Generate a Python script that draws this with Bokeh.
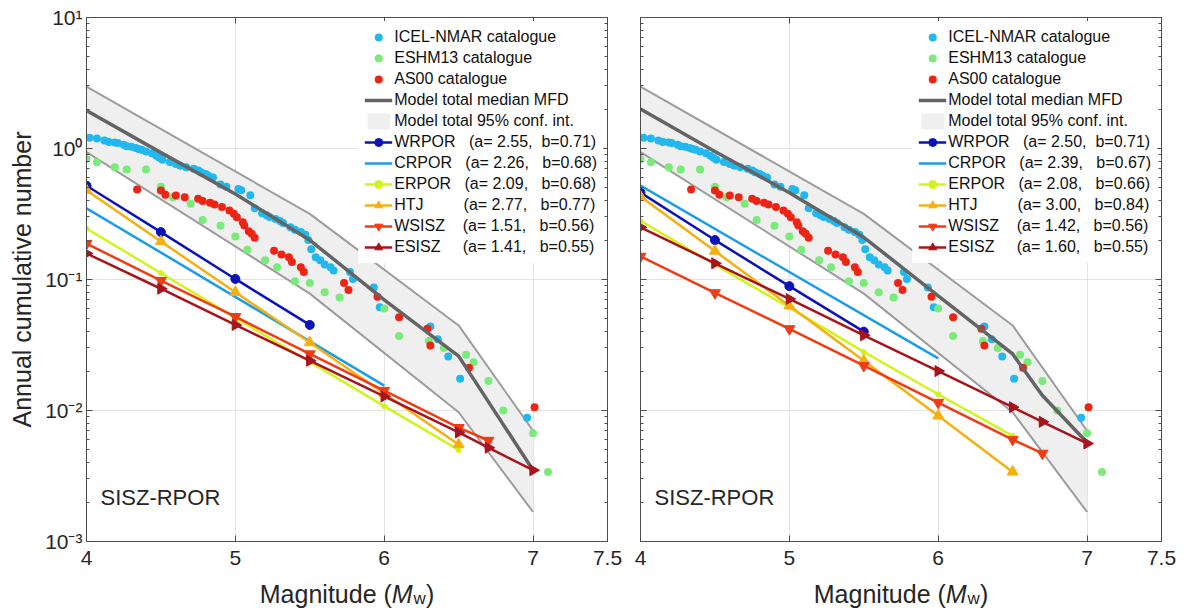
import math
from bokeh.plotting import figure
from bokeh.models import (Range1d, FixedTicker, CustomJSTickFormatter, NumeralTickFormatter,
                          Legend, LegendItem, Label, LogAxis, LinearAxis)
from bokeh.layouts import row, column
from bokeh.core.properties import value
from bokeh.embed import file_html
from bokeh.resources import INLINE

# ---------------- data ----------------
icel_m = [4.02, 4.07, 4.12, 4.15, 4.19, 4.21, 4.25, 4.27, 4.30, 4.33, 4.35, 4.37, 4.40, 4.44, 4.47,
          4.49, 4.51, 4.56, 4.60, 4.63, 4.67, 4.72, 4.75, 4.77, 4.80, 4.82, 4.85, 4.90, 4.94, 5.02,
          5.04, 5.10, 5.13, 5.18, 5.21, 5.23, 5.27, 5.30, 5.32, 5.37, 5.40, 5.44, 5.47, 5.49, 5.51,
          5.54, 5.57, 5.60, 5.64, 5.66, 5.77, 5.79, 5.93, 5.97, 6.31, 6.36, 6.43, 6.51, 6.96]
icel_n = [1.21, 1.19, 1.15, 1.12, 1.11, 1.10, 1.07, 1.04, 1.03, 1.01, 0.99, 0.98, 0.95, 0.92, 0.88,
          0.85, 0.82, 0.79, 0.76, 0.74, 0.72, 0.70, 0.68, 0.66, 0.64, 0.62, 0.60, 0.53, 0.51, 0.49,
          0.48, 0.44, 0.35, 0.32, 0.31, 0.30, 0.29, 0.28, 0.27, 0.25, 0.24, 0.23, 0.22, 0.20, 0.17,
          0.148, 0.14, 0.13, 0.124, 0.117, 0.114, 0.101, 0.087, 0.0615, 0.0437, 0.035, 0.0258, 0.0175, 0.0088]

eshm_m = [4.00, 4.07, 4.19, 4.27, 4.40, 4.50, 4.58, 4.70, 4.78, 4.90, 5.00, 5.08, 5.20, 5.28,
          5.40, 5.50, 5.60, 5.70, 6.00, 6.10, 6.30, 6.40, 6.55, 6.60, 6.70, 6.80, 7.00, 7.10]
eshm_n = [0.83, 0.785, 0.72, 0.69, 0.69, 0.51, 0.425, 0.378, 0.285, 0.257, 0.213, 0.169, 0.14, 0.124,
          0.097, 0.094, 0.080, 0.073, 0.060, 0.037, 0.034, 0.030, 0.0267, 0.0234, 0.0168, 0.010, 0.0067, 0.0034]

as00_m = [4.34, 4.50, 4.53, 4.60, 4.66, 4.75, 4.78, 4.83, 4.86, 4.91, 4.96, 4.99, 5.01, 5.05, 5.06, 5.09,
          5.11, 5.13, 5.26, 5.31, 5.36, 5.38, 5.44, 5.46, 5.73, 5.76, 5.955, 6.10, 6.29, 6.31, 6.57, 7.01]
as00_n = [0.486, 0.478, 0.444, 0.438, 0.425, 0.413, 0.397, 0.385, 0.374, 0.357, 0.336, 0.317, 0.299, 0.274,
          0.258, 0.234, 0.223, 0.208, 0.166, 0.155, 0.148, 0.136, 0.124, 0.114, 0.094, 0.083, 0.074,
          0.0515, 0.042, 0.0313, 0.0212, 0.0106]

ci_m = [4.0, 5.5, 6.5, 7.0]
ci_upper = [2.97, 0.317, 0.0446, 0.0070]
ci_lower = [0.94, 0.078, 0.0097, 0.00168]

left_median_m = [4.0, 4.5, 5.0, 5.5, 6.0, 6.5, 7.0]
left_median_n = [1.95, 0.93, 0.45, 0.20, 0.070, 0.026, 0.0035]
right_median_m = [4.0, 4.5, 5.0, 5.5, 6.0, 6.5, 6.7, 7.0]
right_median_n = [2.0, 0.95, 0.46, 0.21, 0.075, 0.027, 0.013, 0.0057]

zone_names = ["WRPOR", "CRPOR", "ERPOR", "HTJ", "WSISZ", "ESISZ"]
left_a = [2.55, 2.26, 2.09, 2.77, 1.51, 1.41]
left_b = [0.71, 0.68, 0.68, 0.77, 0.56, 0.55]
right_a = [2.50, 2.39, 2.08, 3.00, 1.42, 1.60]
right_b = [0.71, 0.67, 0.66, 0.84, 0.56, 0.55]

wrpor_m = [4.0, 4.5, 5.0, 5.5]
crpor_m = [4.0, 6.0]
erpor_m = [4.0, 4.5, 5.0, 5.5, 6.0, 6.5]
htj_m = [4.0, 4.5, 5.0, 5.5, 6.0, 6.5]
wsisz_m = [4.0, 4.5, 5.0, 5.5, 6.0, 6.5, 6.7]
esisz_m = [4.0, 4.5, 5.0, 5.5, 6.0, 6.5, 6.7, 7.0]

left_wrpor_n = [0.52, 0.23, 0.101, 0.045]
left_crpor_n = [0.35, 0.0155]
left_erpor_n = [0.245, 0.112, 0.051, 0.0235, 0.0108, 0.0050]
left_htj_n = [0.48, 0.195, 0.080, 0.033, 0.0135, 0.0055]
left_wsisz_n = [0.188, 0.098, 0.052, 0.027, 0.0142, 0.0074, 0.0059]
left_esisz_n = [0.158, 0.085, 0.045, 0.024, 0.0128, 0.0068, 0.0052, 0.0035]

right_wrpor_n = [0.46, 0.20, 0.089, 0.040]
right_crpor_n = [0.52, 0.025]
right_erpor_n = [0.28, 0.13, 0.061, 0.028, 0.0133, 0.0064]
right_htj_n = [0.43, 0.165, 0.063, 0.024, 0.0091, 0.0034]
right_wsisz_n = [0.15, 0.079, 0.042, 0.022, 0.0115, 0.0060, 0.0047]
right_esisz_n = [0.25, 0.133, 0.071, 0.0375, 0.020, 0.0106, 0.0082, 0.0056]

x_ticks = [4, 5, 6, 7, 7.5]
y_ticks = [1e-3, 1e-2, 1e-1, 1e0, 1e1]
region_text = "SISZ-RPOR"
ylabel_text = "Annual cumulative number"
xlabel_parts = ["Magnitude (", "M", "w", ")"]
catalogue_labels = ["ICEL-NMAR catalogue", "ESHM13 catalogue", "AS00 catalogue"]
median_label = "Model total median MFD"
ci_label = "Model total 95% conf. int."

# ---------------- styling ----------------
FONT = "Liberation Sans"
TXT = "#262626"
AXC = "#4d4d4d"
NB = "\u00a0"
zone_styles = [
    dict(color="#0a12b8", marker="circle", size=9, angle=0.0),
    dict(color="#1a9de6", marker=None, size=0, angle=0.0),
    dict(color="#d4f21c", marker="circle", size=5, angle=0.0),
    dict(color="#f5b010", marker="triangle", size=11, angle=0.0),
    dict(color="#f03c14", marker="inverted_triangle", size=11, angle=0.0),
    dict(color="#a8141c", marker="triangle", size=11, angle=-math.pi / 2),
]
gap_name = [3, 3, 3, 9, 4, 5]
gap_b = [2, 3, 3, 3, 3, 3]
zone_ms = [wrpor_m, crpor_m, erpor_m, htj_m, wsisz_m, esisz_m]

AW = {"M": 833, "a": 556, "g": 556, "n": 556, "i": 222, "t": 278, "u": 556, "d": 556,
      "e": 556, " ": 278, "(": 333, ")": 333, "w": 722}


def tw(s, size):
    return sum(AW[c] for c in s) * size / 1000.0


FRAME_W, FRAME_H = 521, 524
TOP_B, BOT_B = 17, 33
LAB_H = 34
LAB_BASE = 15


def make_panel(first, median_m, median_n, zone_ns, a_list, b_list):
    left_border = 86 if first else 17
    right_border = 16
    p = figure(width=left_border + FRAME_W + right_border, height=TOP_B + FRAME_H + BOT_B,
               x_range=Range1d(4, 7.5), y_range=Range1d(1e-3, 10), y_axis_type="log",
               output_backend="svg", toolbar_location=None,
               min_border_left=left_border, min_border_right=right_border,
               min_border_top=TOP_B, min_border_bottom=BOT_B)
    p.background_fill_color = "white"
    p.border_fill_color = "white"
    p.outline_line_color = AXC

    xt = FixedTicker(ticks=x_ticks, minor_ticks=[])
    minor = [k * 10.0 ** e for e in range(-3, 1) for k in range(2, 10)]
    yt = FixedTicker(ticks=y_ticks, minor_ticks=minor)
    sup_fmt = CustomJSTickFormatter(code="""
        const e = Math.round(Math.log10(tick));
        const sup = {"-": "\u207b", "0": "\u2070", "1": "\u00b9", "2": "\u00b2", "3": "\u00b3"};
        return "10" + String(e).split("").map(c => sup[c]).join("");
    """)
    empty = CustomJSTickFormatter(code="return '';")

    xa = p.xaxis[0]
    xa.ticker = xt
    xa.formatter = NumeralTickFormatter(format="0.[0]")
    ya = p.yaxis[0]
    ya.ticker = yt
    ya.formatter = sup_fmt if first else empty

    for ax in (xa, ya):
        ax.axis_line_color = AXC
        ax.major_tick_line_color = AXC
        ax.minor_tick_line_color = AXC
        ax.major_tick_in = 6
        ax.major_tick_out = 0
        ax.minor_tick_in = 3
        ax.minor_tick_out = 0
        ax.major_label_text_font = FONT
        ax.major_label_text_font_size = "21px"
        ax.major_label_text_color = TXT
    xa.major_label_standoff = 9
    ya.major_label_standoff = 4 if first else 0
    if first:
        ya.axis_label = ylabel_text
        ya.axis_label_text_font = FONT
        ya.axis_label_text_font_size = "25px"
        ya.axis_label_text_font_style = "normal"
        ya.axis_label_text_color = TXT
        ya.axis_label_standoff = 6

    top = LinearAxis(ticker=xt, formatter=empty, major_tick_in=6, major_tick_out=0,
                     minor_tick_in=0, minor_tick_out=0, axis_line_color=AXC,
                     major_tick_line_color=AXC, major_label_standoff=0)
    p.add_layout(top, "above")
    right = LogAxis(ticker=yt, formatter=empty, major_tick_in=6, major_tick_out=0,
                    minor_tick_in=3, minor_tick_out=0, axis_line_color=AXC,
                    major_tick_line_color=AXC, minor_tick_line_color=AXC,
                    major_label_standoff=0)
    p.add_layout(right, "right")

    p.xgrid.grid_line_color = "#e3e3e3"
    p.ygrid.grid_line_color = "#e3e3e3"
    p.xgrid.ticker = xt
    p.ygrid.ticker = yt

    # confidence band
    band = p.varea(x=ci_m, y1=ci_lower, y2=ci_upper, fill_color="#efefef", fill_alpha=1.0)
    p.line(ci_m, ci_upper, line_color="#9c9c9c", line_width=2)
    p.line(ci_m, ci_lower, line_color="#9c9c9c", line_width=2)

    # catalogues
    r_icel = p.scatter(icel_m, icel_n, marker="circle", size=8, fill_color="#22b8ee", line_alpha=0)
    r_eshm = p.scatter(eshm_m, eshm_n, marker="circle", size=8, fill_color="#7aea7a", line_alpha=0)
    r_as00 = p.scatter(as00_m, as00_n, marker="circle", size=8, fill_color="#ec2414", line_alpha=0)

    # median
    r_med = p.line(median_m, median_n, line_color="#646464", line_width=3.5)

    items = [LegendItem(label=catalogue_labels[0], renderers=[r_icel]),
             LegendItem(label=catalogue_labels[1], renderers=[r_eshm]),
             LegendItem(label=catalogue_labels[2], renderers=[r_as00]),
             LegendItem(label=median_label, renderers=[r_med]),
             LegendItem(label=ci_label, renderers=[band])]

    for i, name in enumerate(zone_names):
        st = zone_styles[i]
        rs = [p.line(zone_ms[i], zone_ns[i], line_color=st["color"], line_width=2.5)]
        if st["marker"]:
            rs.append(p.scatter(zone_ms[i], zone_ns[i], marker=st["marker"], size=st["size"],
                                angle=st["angle"], fill_color=st["color"], line_color=st["color"]))
        lab = (name + NB * gap_name[i] + "(a=" + NB + f"{a_list[i]:.2f}," + NB * gap_b[i]
               + f"b={b_list[i]:.2f})")
        items.append(LegendItem(label=lab, renderers=rs))

    legend = Legend(items=items, location="top_right", margin=4, padding=6, spacing=1,
                    label_text_font=FONT, label_text_font_size="16px", label_text_color="#111111",
                    label_height=20, glyph_height=20, glyph_width=28, label_standoff=2,
                    background_fill_color="white", background_fill_alpha=1.0,
                    border_line_alpha=0)
    p.add_layout(legend)

    p.add_layout(Label(x=14, y=44, x_units="screen", y_units="screen", text=region_text,
                       text_font=FONT, text_font_size="22px", text_color=TXT,
                       text_baseline="middle", text_align="left"))

    # x-axis title strip ("Magnitude (M_w)") as a separate axis-less, title-less figure
    W = left_border + FRAME_W + right_border
    q = figure(width=W, height=LAB_H, x_range=Range1d(0, W), y_range=Range1d(0, LAB_H),
               output_backend="svg", toolbar_location=None, min_border=0, title=None,
               x_axis_location=None, y_axis_location=None)
    q.grid.visible = False
    q.outline_line_color = None
    q.background_fill_color = "white"
    q.border_fill_color = "white"
    pieces = [(xlabel_parts[0], 25, "normal", 0), (xlabel_parts[1], 25, "italic", 0),
              (xlabel_parts[2], 17, "normal", -5), (xlabel_parts[3], 25, "normal", 0)]
    total = sum(tw(s, sz) for s, sz, _, _ in pieces) + 1
    cx = left_border + FRAME_W / 2 - total / 2
    for s, sz, style, dy in pieces:
        q.text(x=[cx], y=[LAB_BASE + dy], text=[s], text_font=value(FONT),
               text_font_size=f"{sz}px", text_font_style=style, text_color=TXT,
               text_align="left", text_baseline="alphabetic")
        cx += tw(s, sz) + (1 if style == "italic" else 0)
    return p, q


p1, q1 = make_panel(True, left_median_m, left_median_n,
                    [left_wrpor_n, left_crpor_n, left_erpor_n, left_htj_n, left_wsisz_n, left_esisz_n],
                    left_a, left_b)
p2, q2 = make_panel(False, right_median_m, right_median_n,
                    [right_wrpor_n, right_crpor_n, right_erpor_n, right_htj_n, right_wsisz_n, right_esisz_n],
                    right_a, right_b)

layout = column(row(p1, p2), row(q1, q2))
open("out.html", "w").write(file_html(layout, INLINE))
